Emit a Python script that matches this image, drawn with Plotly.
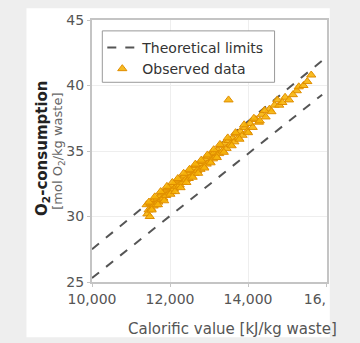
import plotly.graph_objects as go

# Theoretical limit lines (end points)
limit_x = [10000, 15900]
upper_limit_y = [27.5, 41.9]
lower_limit_y = [25.3, 39.3]

# Observed data (calorific value kJ/kg waste, O2 consumption mol/kg waste)
obs_x = [11400, 11420, 11450, 11480, 11500, 11520, 11550, 11580, 11600, 11650,
         11680, 11700, 11740, 11780, 11800, 11830, 11870, 11900, 11940, 11980,
         12000, 12040, 12080, 12100, 12150, 12180, 12220, 12250, 12300, 12330,
         12370, 12400, 12440, 12480, 12520, 12550, 12600, 12630, 12670, 12700,
         12740, 12780, 12820, 12860, 12900, 12940, 12980, 13020, 13060, 13100,
         13140, 13180, 13220, 13260, 13300, 13350, 13400, 13450, 13500, 13550,
         13600, 13650, 13700, 13750, 13800, 13860, 13920, 13980, 14050, 14120,
         14200, 14280, 14350, 14450, 14550, 14680, 14800, 14950, 15050, 15250,
         15300, 15420, 15620, 13500,
         11460, 11530, 11610, 11690, 11760, 11850, 11920, 12010, 12060, 12130,
         12200, 12270, 12350, 12420, 12500, 12580, 12650, 12720, 12800, 12880,
         12960, 13040, 13120, 13200, 13280, 13380, 13480, 13580, 13680, 13780,
         13900, 14000, 14150, 14300, 14420, 14600, 14750, 14880, 15150, 15520]
obs_y = [30.9, 30.2, 30.5, 30.0, 31.0, 30.6, 31.1, 30.8, 31.3, 30.9,
         31.4, 31.1, 31.6, 31.3, 31.8, 31.4, 31.9, 31.6, 32.1, 31.8,
         32.2, 31.9, 32.4, 32.1, 32.6, 32.3, 32.8, 32.4, 32.9, 32.6,
         33.1, 32.8, 33.3, 32.9, 33.5, 33.1, 33.7, 33.3, 33.9, 33.5,
         34.0, 33.6, 34.2, 33.8, 34.4, 34.0, 34.6, 34.2, 34.8, 34.4,
         34.9, 34.6, 35.1, 34.8, 35.4, 35.0, 35.6, 35.2, 35.8, 35.5,
         36.0, 35.7, 36.3, 36.0, 36.5, 36.2, 36.8, 36.5, 37.1, 36.8,
         37.4, 37.2, 37.8, 37.6, 38.2, 38.5, 38.5, 39.1, 38.9, 39.6,
         39.9, 40.0, 40.8, 38.9,
         31.1, 30.5, 31.5, 30.9, 31.9, 31.2, 32.3, 31.7, 32.6, 31.9,
         32.9, 32.2, 33.3, 32.6, 33.6, 33.0, 34.0, 33.3, 34.3, 33.7,
         34.7, 34.1, 35.1, 34.5, 35.5, 34.9, 36.0, 35.4, 36.4, 35.9,
         37.0, 36.4, 37.5, 37.3, 38.1, 38.0, 38.9, 38.7, 39.3, 40.3]

x_ticks = [10000, 12000, 14000, 16000]
x_tick_labels = ["10,000", "12,000", "14,000", "16," + "&nbsp;" * 5]
y_ticks = [25, 30, 35, 40, 45]

FONT = "DejaVu Sans"
W, H = 360, 343
L, R, T, B = 92, 17, 17, 61
pw, ph = W - L - R, H - T - B

def px(xp):
    return (xp - L) / pw

def py(yp):
    return (H - B - yp) / ph

fig = go.Figure()
fig.add_trace(go.Scatter(
    x=limit_x, y=upper_limit_y, mode="lines", name="Theoretical limits",
    line=dict(color="#555555", width=2, dash="dash"), legendgroup="lim"))
fig.add_trace(go.Scatter(
    x=limit_x, y=lower_limit_y, mode="lines", name="Theoretical limits",
    line=dict(color="#555555", width=2, dash="dash"), legendgroup="lim",
    showlegend=False))
fig.add_trace(go.Scatter(
    x=obs_x, y=obs_y, mode="markers", name="Observed data",
    marker=dict(symbol="triangle-up", size=8, color="rgba(246,180,10,0.9)",
                line=dict(color="#e08e00", width=1))))

axis_common = dict(showgrid=True, gridcolor="#eeeeee", zeroline=False,
                   showline=True, linecolor="#c4c4c4", linewidth=2, mirror=True,
                   ticks="outside", ticklen=3, tickcolor="#c4c4c4",
                   ticklabeloverflow="allow",
                   tickfont=dict(family=FONT, size=14, color="#555555"))

fig.update_layout(
    width=W, height=H,
    margin=dict(l=L, r=R, t=T, b=B),
    paper_bgcolor="#eeeeee", plot_bgcolor="white",
    font=dict(family=FONT, size=14, color="#555555"),
    showlegend=True,
    legend=dict(x=px(103), y=py(29), xanchor="left", yanchor="top",
                bgcolor="rgba(0,0,0,0)", borderwidth=0,
                font=dict(family=FONT, size=14, color="#333333"),
                itemwidth=30, tracegroupgap=0),
    xaxis=dict(range=[10000, 16024], tickvals=x_ticks, ticktext=x_tick_labels,
               **axis_common),
    yaxis=dict(range=[25, 45], tickvals=y_ticks, **axis_common),
    shapes=[
        dict(type="rect", xref="paper", yref="paper", layer="below",
             x0=px(22), x1=px(346), y0=py(338), y1=py(5),
             fillcolor="white", line=dict(width=0)),
        dict(type="rect", xref="paper", yref="paper", layer="above",
             x0=px(103), x1=px(287), y0=py(80), y1=py(28),
             fillcolor="white", line=dict(color="#999999", width=1)),
    ],
    annotations=[
        dict(text="<b>O<sub>2</sub>-consumption</b>", xref="paper", yref="paper",
             x=px(39), y=py(147), textangle=-90, showarrow=False,
             font=dict(family=FONT, size=15, color="#222222"),
             xanchor="center", yanchor="middle"),
        dict(text="[mol O<sub>2</sub>/kg waste]", xref="paper", yref="paper",
             x=px(56), y=py(150), textangle=-90, showarrow=False,
             font=dict(family=FONT, size=13, color="#666666"),
             xanchor="center", yanchor="middle"),
        dict(text="Calorific value [kJ/kg waste]", xref="paper", yref="paper",
             x=px(128), y=py(330), showarrow=False,
             font=dict(family=FONT, size=15, color="#555555"),
             xanchor="left", yanchor="middle"),
    ],
)

fig.write_html("out.html")
